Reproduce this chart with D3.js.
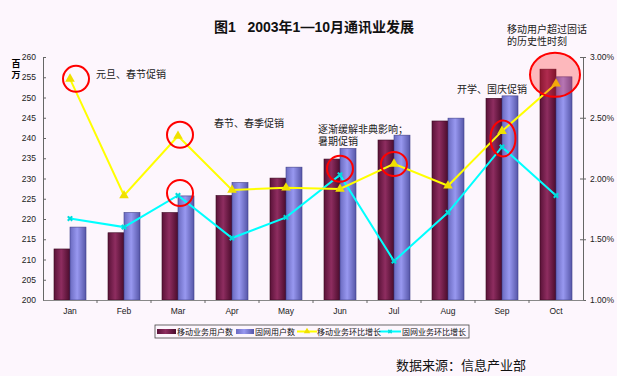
<!DOCTYPE html>
<html>
<head>
<meta charset="utf-8">
<script src="https://cdn.jsdelivr.net/npm/d3@7"></script>
<style>
  body { margin: 0; background: #fdf6fd; }
  svg { display: block; }
  text { font-family: "Liberation Sans", "Noto Sans CJK SC", sans-serif; }
</style>
</head>
<body>
<svg></svg>
<script>
var months = ["Jan", "Feb", "Mar", "Apr", "May", "Jun", "Jul", "Aug", "Sep", "Oct"];
var mobileUsers = [212.6, 216.6, 221.6, 225.8, 230.1, 234.8, 239.5, 244.2, 249.8, 257.0];
var fixedUsers = [218.0, 221.6, 225.7, 229.0, 232.8, 237.4, 240.7, 244.9, 250.4, 255.1];
var mobileGrowth = [2.82, 1.86, 2.35, 1.905, 1.924, 1.914, 2.12, 1.94, 2.39, 2.78];
var fixedGrowth = [1.67, 1.60, 1.86, 1.51, 1.68, 2.03, 1.32, 1.72, 2.26, 1.86];
var leftTicks = [200, 205, 210, 215, 220, 225, 230, 235, 240, 245, 250, 255, 260];
var rightTicks = [1.0, 1.5, 2.0, 2.5, 3.0];
var seriesNames = ["移动业务用户数", "固网用户数", "移动业务环比增长", "固网业务环比增长"];

// red circles: month, value on the right axis, shift and size
var marks = [
    {m: "Jan", v: 2.82, dx: 6, rx: 13, ry: 13},
    {m: "Mar", v: 2.36, dx: 2, rx: 13, ry: 13},
    {m: "Mar", v: 1.88, dx: 2, rx: 13, ry: 13},
    {m: "Jun", v: 2.08, dx: 0, rx: 13, ry: 13},
    {m: "Jul", v: 2.12, dx: 0, rx: 13, ry: 12},
    {m: "Sep", v: 2.33, dx: 1, rx: 12.5, ry: 18}
];
var notes = [
    {x: 96, y: 74, t: "元旦、春节促销"},
    {x: 214, y: 123, t: "春节、春季促销"},
    {x: 318, y: 129, t: "逐渐缓解非典影响；"},
    {x: 318, y: 141, t: "暑期促销"},
    {x: 457, y: 89, t: "开学、国庆促销"},
    {x: 507, y: 29, t: "移动用户超过固话"},
    {x: 507, y: 41, t: "的历史性时刻"}
];

var width = 617, height = 376;
var plotLeft = 43, plotRight = 583, plotTop = 57, plotBottom = 300;

var svg = d3.select("svg").attr("width", width).attr("height", height);

var x = d3.scaleBand().domain(months).range([plotLeft, plotRight]);
var x1 = d3.scaleBand().domain([0, 1]).range([11, 43]);
var y = d3.scaleLinear().domain([200, 260]).range([plotBottom, plotTop]);
var y2 = d3.scaleLinear().domain([1, 3]).range([plotBottom, plotTop]);

// gradients for the cylinder look
var defs = svg.append("defs");
function grad(id, c1, c2, c3) {
    var g = defs.append("linearGradient").attr("id", id)
        .attr("x1", "0%").attr("x2", "100%").attr("y1", "0%").attr("y2", "0%");
    g.append("stop").attr("offset", "0%").attr("stop-color", c1);
    g.append("stop").attr("offset", "45%").attr("stop-color", c2);
    g.append("stop").attr("offset", "100%").attr("stop-color", c3);
}
grad("gMob", "#5a1238", "#8e2d60", "#4a0c2c");
grad("gFix", "#6a6ac0", "#9898f0", "#5656a8");

// title
svg.append("text").attr("x", 314).attr("y", 32).attr("text-anchor", "middle")
    .attr("font-size", 14).attr("font-weight", "bold").attr("fill", "#111")
    .style("white-space", "pre")
    .text("图1   2003年1—10月通讯业发展");

// bars
var groups = svg.selectAll("g.month").data(months).enter().append("g")
    .attr("class", "month")
    .attr("transform", function(d) { return "translate(" + x(d) + ",0)"; });

groups.append("rect")
    .attr("x", x1(0)).attr("width", x1.bandwidth())
    .attr("y", function(d, i) { return y(mobileUsers[i]); })
    .attr("height", function(d, i) { return plotBottom - y(mobileUsers[i]); })
    .attr("fill", "url(#gMob)").attr("stroke", "#3a0820").attr("stroke-width", 0.6);

groups.append("rect")
    .attr("x", x1(1)).attr("width", x1.bandwidth())
    .attr("y", function(d, i) { return y(fixedUsers[i]); })
    .attr("height", function(d, i) { return plotBottom - y(fixedUsers[i]); })
    .attr("fill", "url(#gFix)").attr("stroke", "#40408a").attr("stroke-width", 0.6);

// axes
var leftAxis = d3.axisLeft(y).tickValues(leftTicks).tickSize(-3).tickPadding(7);
var gl = svg.append("g").attr("transform", "translate(" + plotLeft + ",0)").call(leftAxis);
gl.select(".domain").attr("stroke", "#666");
gl.selectAll(".tick line").attr("stroke", "#666");
gl.selectAll("text").attr("font-size", 8.5).attr("fill", "#222");

var rightAxis = d3.axisRight(y2).tickValues(rightTicks).tickSize(3).tickPadding(4)
    .tickFormat(function(d) { return d.toFixed(2) + "%"; });
var gr = svg.append("g").attr("transform", "translate(" + plotRight + ",0)").call(rightAxis);
gr.select(".domain").attr("stroke", "#666");
gr.selectAll(".tick line").attr("stroke", "#666").attr("x1", -3);
gr.selectAll("text").attr("font-size", 8.5).attr("fill", "#222");

var bottomAxis = d3.axisBottom(x).tickSize(0).tickPadding(8);
var gb = svg.append("g").attr("transform", "translate(0," + plotBottom + ")").call(bottomAxis);
gb.select(".domain").attr("stroke", "#888");
gb.selectAll("text").attr("font-size", 8.5).attr("fill", "#222")
    .attr("font-family", "Liberation Serif, serif");
gb.selectAll(".sep").data(months.slice(1)).enter().append("line")
    .attr("x1", function(d) { return x(d); }).attr("x2", function(d) { return x(d); })
    .attr("y1", 0).attr("y2", 3).attr("stroke", "#666");

svg.append("text").attr("x", 16).attr("y", 67).attr("text-anchor", "middle")
    .attr("font-size", 9).attr("font-weight", "bold").text("百");
svg.append("text").attr("x", 16).attr("y", 78).attr("text-anchor", "middle")
    .attr("font-size", 9).attr("font-weight", "bold").text("万");

// lines
var cx = function(d, i) { return x(months[i]) + x.bandwidth() / 2; };
var line = d3.line().x(cx).y(function(d) { return y2(d); });

svg.append("path").datum(fixedGrowth).attr("d", line)
    .attr("fill", "none").attr("stroke", "#00ffff").attr("stroke-width", 2);
svg.selectAll("path.xm").data(fixedGrowth).enter().append("path")
    .attr("class", "xm")
    .attr("transform", function(d, i) { return "translate(" + cx(d, i) + "," + y2(d) + ") rotate(45)"; })
    .attr("d", d3.symbol().type(d3.symbolCross).size(22))
    .attr("fill", "#00dddd");

svg.append("path").datum(mobileGrowth).attr("d", line)
    .attr("fill", "none").attr("stroke", "#ffff00").attr("stroke-width", 2);
svg.selectAll("path.tm").data(mobileGrowth).enter().append("path")
    .attr("class", "tm")
    .attr("transform", function(d, i) { return "translate(" + cx(d, i) + "," + y2(d) + ")"; })
    .attr("d", d3.symbol().type(d3.symbolTriangle).size(40))
    .attr("fill", "#f0e000");

// circles
svg.selectAll("ellipse.mk").data(marks).enter().append("ellipse")
    .attr("class", "mk")
    .attr("cx", function(d) { return x(d.m) + x.bandwidth() / 2 + d.dx; })
    .attr("cy", function(d) { return y2(d.v); })
    .attr("rx", function(d) { return d.rx; }).attr("ry", function(d) { return d.ry; })
    .attr("fill", "none").attr("stroke", "#ff0000").attr("stroke-width", 2);

// Oct highlight
svg.append("ellipse")
    .attr("cx", x("Oct") + x.bandwidth() / 2 - 1).attr("cy", y(255.6))
    .attr("rx", 25).attr("ry", 22)
    .attr("fill", "rgba(255,40,40,0.3)").attr("stroke", "#ff0000").attr("stroke-width", 2);

// notes
svg.selectAll("text.note").data(notes).enter().append("text")
    .attr("class", "note")
    .attr("x", function(d) { return d.x; }).attr("y", function(d) { return d.y + 4; })
    .attr("font-size", 10).attr("fill", "#222")
    .text(function(d) { return d.t; });

// legend
var lg = svg.append("g");
lg.append("rect").attr("x", 155).attr("y", 325).attr("width", 314).attr("height", 13)
    .attr("fill", "#fdf6fd").attr("stroke", "#444").attr("stroke-width", 0.8);
var lx = [157, 236, 297, 379];
lg.append("rect").attr("x", lx[0]).attr("y", 329).attr("width", 19).attr("height", 5).attr("fill", "url(#gMob)");
lg.append("rect").attr("x", lx[1]).attr("y", 329).attr("width", 18).attr("height", 5).attr("fill", "url(#gFix)");
lg.append("line").attr("x1", lx[2]).attr("x2", lx[2] + 20).attr("y1", 331.5).attr("y2", 331.5)
    .attr("stroke", "#ffff00").attr("stroke-width", 2);
lg.append("path").attr("transform", "translate(" + (lx[2] + 10) + ",331.5)")
    .attr("d", d3.symbol().type(d3.symbolTriangle).size(18)).attr("fill", "#f0e000");
lg.append("line").attr("x1", lx[3]).attr("x2", lx[3] + 22).attr("y1", 331.5).attr("y2", 331.5)
    .attr("stroke", "#00ffff").attr("stroke-width", 2);
lg.append("path").attr("transform", "translate(" + (lx[3] + 11) + ",331.5) rotate(45)")
    .attr("d", d3.symbol().type(d3.symbolCross).size(12)).attr("fill", "#00dddd");
var tx = [177, 255, 317, 402];
lg.selectAll("text").data(seriesNames).enter().append("text")
    .attr("x", function(d, i) { return tx[i]; }).attr("y", 335)
    .attr("font-size", 8).attr("fill", "#111")
    .text(function(d) { return d; });

svg.append("text").attr("x", 396).attr("y", 370)
    .attr("font-size", 13).attr("fill", "#111").text("数据来源：信息产业部");
</script>
</body>
</html>
